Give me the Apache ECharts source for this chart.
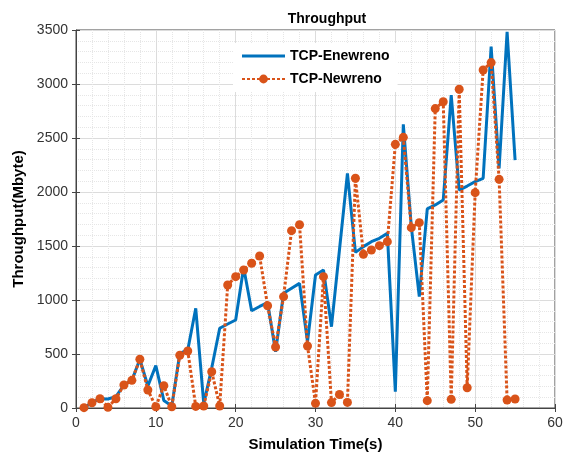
<!DOCTYPE html>
<html>
<head>
<meta charset="utf-8">
<script src="https://cdn.jsdelivr.net/npm/echarts@6/dist/echarts.min.js"></script>
<style>
  html, body { margin: 0; padding: 0; background: #fff; }
  #main { width: 571px; height: 457px; }
</style>
</head>
<body>
<div id="main"></div>
<script>
// simulation time (s)
const timeSteps = [];
for (let i = 1; i <= 55; i++) timeSteps.push(i);

const enewreno = [3, 49, 86, 83, 105, 213, 256, 451, 204, 392,
  70, 19, 506, 537, 923, 40, 370, 738, 778, 815,
  1300, 900, 940, 975, 521, 1062, 1108, 1154, 614, 1231,
  1278, 753, 1463, 2173, 1441, 1494, 1540, 1571, 1617, 151,
  2627, 1679, 1031, 1843, 1880, 1926, 2898, 2018, 2055, 2096,
  2127, 3346, 2219, 3484, 2296];

const newreno = [3, 49, 86, 6, 86, 213, 256, 451, 167, 12,
  207, 12, 488, 528, 15, 19, 336, 19, 1139, 1216,
  1278, 1340, 1407, 947, 565, 1031, 1642, 1697, 574, 43,
  1216, 50, 125, 52, 2127, 1423, 1463, 1503, 1540, 2441,
  2506, 1670, 1716, 68, 2772, 2836, 80, 2951, 188, 1994,
  3130, 3198, 2117, 74, 83];

const toPairs = vals => vals.map((v, i) => [timeSteps[i], v]);

const chart = echarts.init(document.getElementById('main'));

const fontFam = '"Liberation Sans", Arial, sans-serif';

const option = {
  animation: false,
  title: {
    text: 'Throughput',
    left: 322,
    textAlign: 'center',
    top: 7,
    textStyle: { fontFamily: fontFam, fontSize: 14, fontWeight: 'bold', color: '#000' }
  },
  legend: {
    orient: 'vertical',
    left: 233,
    top: 43,
    padding: [6, 8],
    itemGap: 9,
    itemWidth: 43,
    itemHeight: 11,
    backgroundColor: '#fff',
    textStyle: { fontFamily: fontFam, fontSize: 14, fontWeight: 'bold', color: '#000' },
    data: [
      { name: 'TCP-Enewreno', icon: 'path://M0,0L43,0L43,3L0,3Z' },
      'TCP-Newreno'
    ]
  },
  grid: {
    left: 76,
    right: 16,
    top: 30,
    bottom: 49,
    show: true,
    borderColor: '#444',
    borderWidth: 1
  },
  xAxis: [{
    type: 'value',
    min: 0,
    max: 60,
    interval: 10,
    name: 'Simulation Time(s)',
    nameLocation: 'middle',
    nameGap: 29,
    nameTextStyle: { fontFamily: fontFam, fontSize: 15, fontWeight: 'bold', color: '#000' },
    axisLine: { lineStyle: { color: '#444' } },
    axisTick: { inside: true, length: 4, lineStyle: { color: '#444' } },
    axisLabel: { fontFamily: fontFam, fontSize: 14, color: '#333', margin: 8 },
    splitLine: { show: true, lineStyle: { color: '#dcdcdc' } },
    minorTick: { show: false, splitNumber: 5 },
    minorSplitLine: { show: true, lineStyle: { color: '#e6e6e6', type: 'dotted' } }
  }, {
    type: 'value',
    position: 'top',
    min: 0,
    max: 60,
    interval: 10,
    axisLine: { show: false },
    axisTick: { inside: true, length: 4, lineStyle: { color: '#444' } },
    axisLabel: { show: false },
    splitLine: { show: false }
  }],
  yAxis: [{
    type: 'value',
    min: 0,
    max: 3500,
    interval: 500,
    name: 'Throughput(Mbyte)',
    nameLocation: 'middle',
    nameGap: 43,
    nameTextStyle: { fontFamily: fontFam, fontSize: 15, fontWeight: 'bold', color: '#000' },
    axisLine: { show: true, lineStyle: { color: '#444' } },
    axisTick: { show: true, inside: true, length: 4, lineStyle: { color: '#444' } },
    axisLabel: { fontFamily: fontFam, fontSize: 14, color: '#333', margin: 8, formatter: v => String(v) },
    splitLine: { show: true, lineStyle: { color: '#dcdcdc' } },
    minorTick: { show: false, splitNumber: 5 },
    minorSplitLine: { show: true, lineStyle: { color: '#e6e6e6', type: 'dotted' } }
  }, {
    type: 'value',
    position: 'right',
    min: 0,
    max: 3500,
    interval: 500,
    axisLine: { show: false },
    axisTick: { show: true, inside: true, length: 4, lineStyle: { color: '#444' } },
    axisLabel: { show: false },
    splitLine: { show: false }
  }],
  series: [
    {
      name: 'TCP-Enewreno',
      type: 'line',
      xAxisIndex: 0,
      yAxisIndex: 0,
      data: toPairs(enewreno),
      symbol: 'none',
      color: '#0072BD',
      itemStyle: { color: '#0072BD' },
      lineStyle: { color: '#0072BD', width: 3 },
      z: 2
    },
    {
      name: 'TCP-Newreno',
      type: 'line',
      xAxisIndex: 0,
      yAxisIndex: 0,
      data: toPairs(newreno),
      symbol: 'circle',
      symbolSize: 9,
      color: '#D95319',
      itemStyle: { color: '#D95319' },
      lineStyle: { color: '#D95319', width: 3, type: [3, 2] },
      z: 3
    }
  ]
};

chart.setOption(option);
</script>
</body>
</html>
